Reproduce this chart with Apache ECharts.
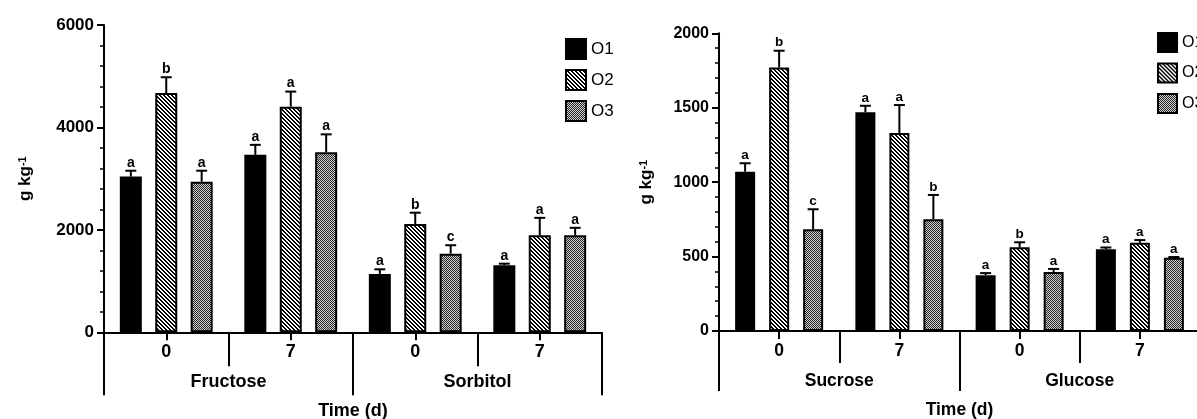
<!DOCTYPE html>
<html>
<head>
<meta charset="utf-8">
<script src="https://cdn.jsdelivr.net/npm/echarts@6/dist/echarts.min.js"></script>
<style>
html,body{margin:0;padding:0;background:#fff;}
#chart{width:1197px;height:419px;}
</style>
</head>
<body>
<div id="chart"></div>
<script>
// ---------- data ----------
const leftTimes = ['0', '7', '0', '7'];
const leftSugars = ['Fructose', 'Sorbitol'];
const rightTimes = ['0', '7', '0', '7'];
const rightSugars = ['Sucrose', 'Glucose'];
const seriesNames = ['O1', 'O2', 'O3'];

const leftO1 = [3040, 3465, 1140, 1310];
const leftO2 = [4670, 4405, 2115, 1895];
const leftO3 = [2940, 3515, 1535, 1895];
const leftO1Err = [115, 195, 90, 30];
const leftO2Err = [310, 295, 220, 340];
const leftO3Err = [215, 350, 165, 145];
const leftO1Letters = ['a', 'a', 'a', 'a'];
const leftO2Letters = ['b', 'a', 'b', 'a'];
const leftO3Letters = ['a', 'a', 'c', 'a'];

const rightO1 = [1070, 1470, 375, 550];
const rightO2 = [1770, 1330, 562, 593];
const rightO3 = [683, 750, 396, 492];
const rightO1Err = [57, 43, 14, 11];
const rightO2Err = [113, 188, 34, 18];
const rightO3Err = [135, 164, 21, 5];
const rightO1Letters = ['a', 'a', 'a', 'a'];
const rightO2Letters = ['b', 'a', 'b', 'a'];
const rightO3Letters = ['c', 'b', 'a', 'a'];

const leftYTicks = {min: 0, max: 6000, interval: 2000};
const rightYTicks = {min: 0, max: 2000, interval: 500};
const yTitle = '{m|g kg}{s|-1}';
const xTitle = 'Time (d)';

// ---------- patterns ----------
const FONT = '"Liberation Sans", Arial, Helvetica, sans-serif';
function tileURL(n, colorAt) {
  const c = document.createElement('canvas');
  c.width = n; c.height = n;
  const ctx = c.getContext('2d');
  for (let y = 0; y < n; y++) for (let x = 0; x < n; x++) {
    ctx.fillStyle = colorAt(x, y, n);
    ctx.fillRect(x, y, 1, 1);
  }
  return c.toDataURL('image/png');
}
const stripeSrc = tileURL(4, (x, y, n) => ((((x - y) % n) + n) % n) < 2 ? '#000' : '#fff');
const checkerSrc = tileURL(4, (x, y) => ((x + y) % 2) === 0 ? '#2a2a2a' : '#cccccc');

function loadImg(src) {
  return new Promise(res => { const im = new Image(); im.onload = () => res(im); im.src = src; });
}

// ---------- builders ----------
function barSeries(name, fill, values, xAxisIndex, yAxisIndex, barW, gap) {
  return {
    type: 'bar', name: name, xAxisIndex: xAxisIndex, yAxisIndex: yAxisIndex,
    data: values, barWidth: barW, barGap: gap,
    itemStyle: {color: fill, borderColor: '#000', borderWidth: 2},
    emphasis: {disabled: true}, z: 2
  };
}
function errSeries(idx, values, errs, letters, xAxisIndex, yAxisIndex, barW, gapFrac, fontSize) {
  return {
    type: 'custom', name: 'err' + idx, xAxisIndex: xAxisIndex, yAxisIndex: yAxisIndex,
    data: values.map((v, i) => [i, v, errs[i]]),
    encode: {x: 0, y: 1}, z: 5, silent: true,
    renderItem: function (params, api) {
      const ci = api.value(0), v = api.value(1), e = api.value(2);
      const base = api.coord([ci, v]);
      const top = api.coord([ci, v + e]);
      const x = base[0] + (idx - 1) * barW * (1 + gapFrac);
      const cap = 5.5;
      return {
        type: 'group', children: [
          {type: 'line', shape: {x1: x, y1: base[1], x2: x, y2: top[1]}, style: {stroke: '#000', lineWidth: 2}},
          {type: 'line', shape: {x1: x - cap, y1: top[1], x2: x + cap, y2: top[1]}, style: {stroke: '#000', lineWidth: 2}},
          {type: 'text', style: {text: letters[params.dataIndex], x: x, y: top[1] - 1, align: 'center', verticalAlign: 'bottom',
            fontSize: fontSize, fontWeight: 'bold', fontFamily: FONT, fill: '#000'}}
        ]
      };
    }
  };
}
function xAxes(gridIndex, times, sugars, sepShort, sepLong, labelSize) {
  const lineStyle = {color: '#000', width: 2};
  return [
    {type: 'category', gridIndex: gridIndex, data: times, position: 'bottom',
      axisLine: {show: true, lineStyle: lineStyle},
      axisTick: {show: true, alignWithLabel: true, length: 8, lineStyle: lineStyle},
      axisLabel: {margin: 11, fontSize: labelSize, fontWeight: 'bold', color: '#000', fontFamily: FONT}},
    {type: 'category', gridIndex: gridIndex, data: times, position: 'bottom',
      axisLine: {show: false},
      axisTick: {show: true, interval: 0, length: sepShort, lineStyle: lineStyle},
      axisLabel: {show: false}},
    {type: 'category', gridIndex: gridIndex, data: sugars, position: 'bottom',
      axisLine: {show: false},
      axisTick: {show: true, interval: 0, length: sepLong, lineStyle: lineStyle},
      axisLabel: {margin: 41, fontSize: labelSize, fontWeight: 'bold', color: '#000', fontFamily: FONT},
      name: xTitle, nameLocation: 'middle', nameGap: 70,
      nameTextStyle: {fontSize: labelSize, fontWeight: 'bold', color: '#000', fontFamily: FONT}}
  ];
}
function yAxis(gridIndex, ticks, labelSize, nameGap) {
  const lineStyle = {color: '#000', width: 2};
  return {
    type: 'value', gridIndex: gridIndex, min: ticks.min, max: ticks.max, interval: ticks.interval,
    axisLine: {show: true, lineStyle: lineStyle},
    axisTick: {show: true, length: 7, lineStyle: lineStyle},
    minorTick: {show: true, splitNumber: 5, length: 4, lineStyle: {color: '#000', width: 1.5}},
    splitLine: {show: false},
    axisLabel: {margin: 10, fontSize: labelSize, fontWeight: 'bold', color: '#000', fontFamily: FONT,
      formatter: v => String(v)},
    name: yTitle, nameLocation: 'middle', nameGap: nameGap, nameRotate: 90,
    nameTextStyle: {
      color: '#000',
      rich: {
        m: {fontSize: 17, fontWeight: 'bold', fontFamily: FONT, color: '#000'},
        s: {fontSize: 11, fontWeight: 'bold', fontFamily: FONT, color: '#000', verticalAlign: 'top'}
      }
    }
  };
}

Promise.all([loadImg(stripeSrc), loadImg(checkerSrc)]).then(([stripeImg, checkerImg]) => {
  const fills = [
    '#000',
    {image: stripeImg, repeat: 'repeat'},
    {image: checkerImg, repeat: 'repeat'}
  ];
  const LBW = 22, LGAP = 0.61, RBW = 20, RGAP = 0.70;
  const leftVals = [leftO1, leftO2, leftO3];
  const leftErrs = [leftO1Err, leftO2Err, leftO3Err];
  const leftLet = [leftO1Letters, leftO2Letters, leftO3Letters];
  const rightVals = [rightO1, rightO2, rightO3];
  const rightErrs = [rightO1Err, rightO2Err, rightO3Err];
  const rightLet = [rightO1Letters, rightO2Letters, rightO3Letters];

  const series = [];
  for (let i = 0; i < 3; i++) series.push(barSeries(seriesNames[i], fills[i], leftVals[i], 0, 0, LBW, Math.round(LGAP * 100) + '%'));
  for (let i = 0; i < 3; i++) series.push(barSeries(seriesNames[i], fills[i], rightVals[i], 3, 1, RBW, Math.round(RGAP * 100) + '%'));
  for (let i = 0; i < 3; i++) series.push(errSeries(i, leftVals[i], leftErrs[i], leftLet[i], 0, 0, LBW, LGAP, 14));
  for (let i = 0; i < 3; i++) series.push(errSeries(i, rightVals[i], rightErrs[i], rightLet[i], 3, 1, RBW, RGAP, 13.5));

  const legendBase = {
    data: seriesNames, orient: 'vertical', icon: 'rect', selectedMode: false,
    itemStyle: {borderColor: '#000', borderWidth: 2}
  };

  const option = {
    animation: false,
    backgroundColor: '#fff',
    textStyle: {fontFamily: FONT, color: '#000'},
    grid: [
      {left: 104, top: 25, width: 498, height: 307.3, outerBoundsMode: 'none', containLabel: false},
      {left: 719, top: 33.3, width: 481, height: 297.7, outerBoundsMode: 'none', containLabel: false}
    ],
    legend: [
      Object.assign({}, legendBase, {left: 560, top: 33, itemWidth: 20, itemHeight: 20, itemGap: 9,
        textStyle: {fontSize: 17, color: '#000', fontFamily: FONT}}),
      Object.assign({}, legendBase, {left: 1152, top: 27, itemWidth: 19, itemHeight: 19, itemGap: 9.5,
        textStyle: {fontSize: 16, color: '#000', fontFamily: FONT}})
    ],
    xAxis: [].concat(
      xAxes(0, leftTimes, leftSugars, 34, 63, 18),
      xAxes(1, rightTimes, rightSugars, 32, 60, 17.5)
    ),
    yAxis: [
      yAxis(0, leftYTicks, 17, 70),
      yAxis(1, rightYTicks, 16, 64)
    ],
    series: series
  };

  const chart = echarts.init(document.getElementById('chart'), null, {renderer: 'canvas'});
  chart.setOption(option);
});
</script>
</body>
</html>
